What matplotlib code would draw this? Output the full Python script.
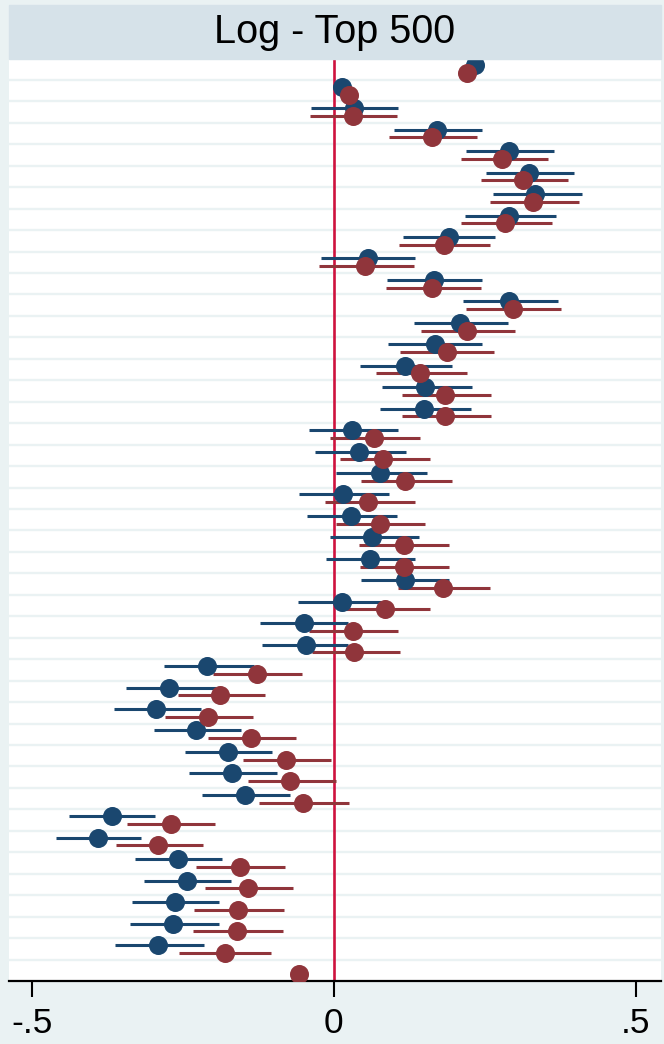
import numpy as np
import matplotlib
matplotlib.use("Agg")
import matplotlib.pyplot as plt
from matplotlib.patches import Rectangle

plt.rcParams["font.family"] = ["Liberation Sans", "DejaVu Sans"]

nan = np.nan
# coeficientes por fila (arriba -> abajo); azul = modelo 1, granate = modelo 2
blue_b = [0.233, 0.014, 0.034, 0.171, 0.290, 0.323, 0.333, 0.290, 0.191, 0.056,
          0.165, 0.290, 0.209, 0.167, 0.118, 0.151, 0.149, 0.030, 0.041, 0.077,
          0.015, 0.029, 0.063, 0.060, 0.118, 0.014, -0.050, -0.047, -0.211, -0.273,
          -0.295, -0.228, -0.176, -0.168, -0.148, -0.368, -0.391, -0.259, -0.244, -0.263,
          -0.266, -0.291, nan]
blue_lo = [nan, nan, -0.038, 0.100, 0.218, 0.252, 0.263, 0.217, 0.115, -0.021,
           0.088, 0.214, 0.133, 0.090, 0.044, 0.079, 0.077, -0.042, -0.031, 0.004,
           -0.057, -0.044, -0.007, -0.013, 0.045, -0.059, -0.122, -0.119, -0.281, -0.344,
           -0.364, -0.298, -0.246, -0.240, -0.219, -0.439, -0.461, -0.330, -0.315, -0.334,
           -0.337, -0.363, nan]
blue_hi = [nan, nan, 0.106, 0.245, 0.364, 0.397, 0.411, 0.368, 0.267, 0.135,
           0.246, 0.372, 0.289, 0.246, 0.196, 0.228, 0.227, 0.107, 0.119, 0.154,
           0.092, 0.105, 0.141, 0.134, 0.190, 0.085, 0.023, 0.023, -0.132, -0.195,
           -0.220, -0.154, -0.103, -0.094, -0.072, -0.297, -0.319, -0.185, -0.170, -0.190,
           -0.191, -0.215, nan]
red_b = [0.220, 0.025, 0.031, 0.163, 0.279, 0.314, 0.329, 0.283, 0.182, 0.051,
         0.163, 0.296, 0.220, 0.187, 0.142, 0.184, 0.184, 0.066, 0.082, 0.118,
         0.057, 0.076, 0.116, 0.116, 0.180, 0.084, 0.031, 0.033, -0.128, -0.189,
         -0.208, -0.137, -0.079, -0.072, -0.051, -0.270, -0.291, -0.156, -0.142, -0.159,
         -0.161, -0.181, -0.058]
red_lo = [nan, nan, -0.040, 0.092, 0.210, 0.243, 0.259, 0.210, 0.108, -0.025,
          0.086, 0.218, 0.145, 0.110, 0.069, 0.112, 0.112, -0.007, 0.010, 0.045,
          -0.015, 0.004, 0.042, 0.043, 0.107, 0.012, -0.041, -0.037, -0.201, -0.259,
          -0.280, -0.208, -0.151, -0.143, -0.124, -0.343, -0.361, -0.228, -0.213, -0.231,
          -0.234, -0.256, nan]
red_hi = [nan, nan, 0.104, 0.237, 0.354, 0.388, 0.406, 0.361, 0.259, 0.132,
          0.243, 0.376, 0.300, 0.265, 0.220, 0.261, 0.261, 0.142, 0.159, 0.195,
          0.134, 0.151, 0.191, 0.191, 0.259, 0.160, 0.107, 0.109, -0.053, -0.114,
          -0.134, -0.062, -0.005, 0.004, 0.025, -0.197, -0.216, -0.081, -0.067, -0.083,
          -0.085, -0.105, nan]

xticks = [-0.5, 0, 0.5]
xticklabels = ["-.5", "0", ".5"]
title = "Log - Top 500"

NAVY = "#1a476f"
MAROON = "#90353b"
BG = "#eaf2f3"
BAND = "#d6e2e9"
CRANBERRY = "#ce123e"

W, H = 664, 1044
fig = plt.figure(figsize=(W / 100, H / 100), dpi=100, facecolor=BG)

# zona del grafico en pixeles
left, right, top, bottom = 8.5, 660.5, 58.5, 981
ax = fig.add_axes([left / W, 1 - bottom / H, (right - left) / W, (bottom - top) / H])
ax.set_facecolor("white")

n = len(red_b)
y = np.arange(n)
off = 0.18

for k in range(n - 1):
    ax.axhline(k + 0.5, color=BG, lw=1.7, zorder=0)
ax.axvline(0, color=CRANBERRY, lw=1.9, zorder=1)

for b, lo, hi, dy, col in [(blue_b, blue_lo, blue_hi, -off, NAVY),
                           (red_b, red_lo, red_hi, off, MAROON)]:
    b = np.array(b); lo = np.array(lo); hi = np.array(hi)
    m = ~np.isnan(lo)
    ax.hlines(y[m] + dy, lo[m], hi[m], color=col, lw=2.2, zorder=2)
    mb = ~np.isnan(b)
    ax.plot(b[mb], y[mb] + dy, "o", color=col, ms=13.7, mew=0, zorder=3)

ax.set_xlim(-0.539, 0.541)
ax.set_ylim(n - 0.5, -0.5)
ax.set_yticks([])
ax.set_xticks(xticks)
ax.set_xticklabels(xticklabels, fontsize=25.5)
ax.tick_params(axis="x", direction="out", length=11.5, width=1.5, pad=7, color="black")
for s in ["top", "left", "right"]:
    ax.spines[s].set_visible(False)
ax.spines["bottom"].set_linewidth(1.6)

# banda del titulo (estilo by() de Stata)
fig.patches.append(Rectangle((left / W, 1 - top / H), (right - left) / W, (top - 5) / H,
                             transform=fig.transFigure, color=BAND, zorder=0))
fig.text((left + right) / 2 / W, 1 - 43 / H, title, ha="center", va="baseline",
         fontsize=28.5, color="black")

fig.savefig("out.png", dpi=100, facecolor=BG)
